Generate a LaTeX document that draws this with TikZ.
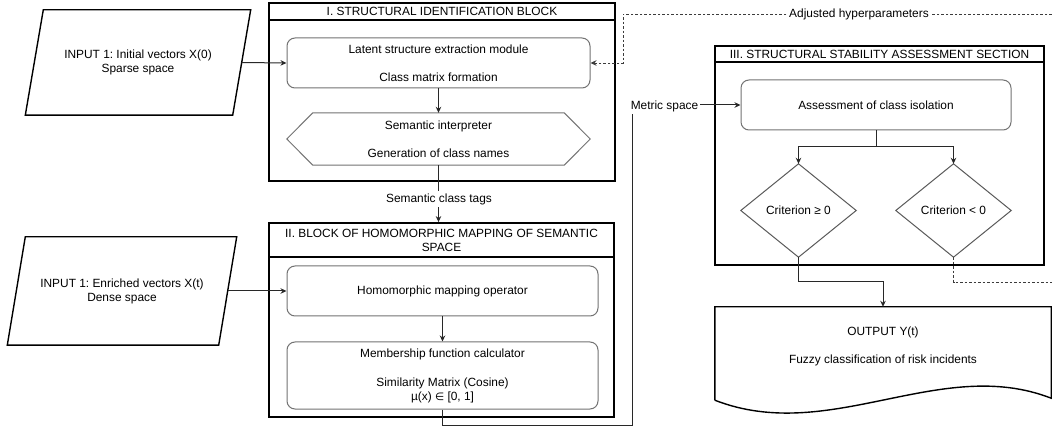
\documentclass[tikz,border=0pt]{standalone}
\usepackage{fontspec}
\setmainfont{Liberation Sans}
\newfontfamily\symfnt{DejaVu Sans}
\usetikzlibrary{arrows.meta,calc}
\frenchspacing
\newcommand\dfont{\fontsize{11.9pt}{14pt}\selectfont}
\tikzset{
  every node/.style={font=\dfont, align=center, inner sep=0pt},
  blockframe/.style={draw=black, line width=1.8pt, minimum width=#1},
  titlebar/.style={draw=black, line width=1.8pt},
  proc/.style={draw={rgb,255:red,115;green,115;blue,115}, line width=1pt, rounded corners=8pt},
  holder/.style={draw=none},
  inshape/.style={draw=black, line width=1.4pt},
  decis/.style={draw={rgb,255:red,90;green,90;blue,90}, line width=1pt},
  link/.style={draw={rgb,255:red,40;green,40;blue,40}, line width=1pt},
  arr/.style={link, -{Stealth[length=6pt,width=5.5pt]}},
  fb/.style={draw={rgb,255:red,60;green,60;blue,60}, line width=0.9pt, dash pattern=on 2.5pt off 2pt},
  lbl/.style={fill=white, inner sep=2pt},
}
\begin{document}
\begin{tikzpicture}[x=1pt, y=-1pt]
\clip (0,0) rectangle (1052,427);
\fill[white] (0,0) rectangle (1052,427);

% ---- inputs ----
\node[holder, minimum width=207pt, minimum height=105pt] (in1) at (138,62.5)
  {INPUT 1: Initial vectors X(0)\\Sparse space};
\draw[inshape] ([xshift=9pt]in1.north west) -- ([xshift=9pt]in1.north east)
  -- ([xshift=-9pt]in1.south east) -- ([xshift=-9pt]in1.south west) -- cycle;

\node[holder, minimum width=211pt, minimum height=108pt] (in2) at (122,291)
  {INPUT 1: Enriched vectors X(t)\\Dense space};
\draw[inshape] ([xshift=9pt]in2.north west) -- ([xshift=9pt]in2.north east)
  -- ([xshift=-9pt]in2.south east) -- ([xshift=-9pt]in2.south west) -- cycle;

% ---- block I ----
\node[blockframe=346pt, minimum height=178pt] (b1) at (442,92) {};
\node[titlebar, minimum width=346pt, minimum height=17pt] (b1t) at (442,11.5)
  {I. STRUCTURAL IDENTIFICATION BLOCK};
\node[proc, minimum width=303pt, minimum height=50pt] (lat) at (438.5,63)
  {Latent structure extraction module\\[14pt]Class matrix formation};
\node[holder, minimum width=303pt, minimum height=52pt] (hex) at (438.5,139)
  {Semantic interpreter\\[14pt]Generation of class names};
\draw[proc, rounded corners=0pt] (hex.west) -- ([xshift=26pt]hex.north west)
  -- ([xshift=-26pt]hex.north east) -- (hex.east)
  -- ([xshift=-26pt]hex.south east) -- ([xshift=26pt]hex.south west) -- cycle;

% ---- block II ----
\node[blockframe=345pt, minimum height=194pt] (b2) at (441.5,320) {};
\node[titlebar, minimum width=345pt, minimum height=34pt] (b2t) at (441.5,240)
  {II. BLOCK OF HOMOMORPHIC MAPPING OF SEMANTIC\\SPACE};
\node[proc, minimum width=311pt, minimum height=50pt] (hom) at (442.5,291)
  {Homomorphic mapping operator};
\node[proc, minimum width=311pt, minimum height=67pt] (mem) at (442.5,375.5)
  {Membership function calculator\\[15pt]Similarity Matrix (Cosine)\\%
   \textmu(x) {\symfnt\fontsize{10.5pt}{14pt}\selectfont∈} [0, 1]};

% ---- block III ----
\node[blockframe=329pt, minimum height=219pt] (b3) at (879.5,155.5) {};
\node[titlebar, minimum width=329pt, minimum height=16pt] (b3t) at (879.5,54)
  {III. STRUCTURAL STABILITY ASSESSMENT SECTION};
\node[proc, minimum width=270pt, minimum height=50pt] (ass) at (876,105)
  {Assessment of class isolation};
\node[holder, minimum width=115pt, minimum height=93pt] (d1) at (798.5,210.5)
  {Criterion ≥ 0};
\draw[decis] (d1.north) -- (d1.east) -- (d1.south) -- (d1.west) -- cycle;
\node[holder, minimum width=115pt, minimum height=93pt] (d2) at (953.5,210.5)
  {Criterion < 0};
\draw[decis] (d2.north) -- (d2.east) -- (d2.south) -- (d2.west) -- cycle;

% ---- output document ----
\node[holder, minimum width=336pt, minimum height=93pt] (out) at (883,353.5) {};
\draw[inshape] (out.south west) -- (out.north west) -- (out.north east)
  -- ([yshift=2pt]out.south east) .. controls (940,355) and (830,445) .. (out.south west);
\node (outtxt) at ([yshift=7.5pt]out.center)
  {OUTPUT Y(t)\\[14pt]Fuzzy classification of risk incidents};

% ---- connectors ----
\draw[arr] (in1.east) -- (lat.west);
\draw[arr] (in2.east) -- (hom.west);
\draw[arr] (lat.south) -- (hex.north);
\draw[arr] (hex.south) -- (b2t.north -| hex.south);
\node[lbl] (tags) at (439,199) {Semantic class tags};
\draw[arr] (hom.south) -- (mem.north);

\coordinate (m1) at (442.5,425);
\coordinate (m2) at (632,425);
\draw[arr] (mem.south) -- (m1) -- (m2) |- (ass.west);
\node[lbl] (metric) at (664.5,106) {Metric space};

\coordinate (split) at (876,147);
\draw[link] (ass.south) -- (split);
\draw[arr] (split) -| (d1.north);
\draw[arr] (split) -| (d2.north);

\coordinate (okbend) at (798.5,282);
\draw[arr] (d1.south) -- (okbend) -| (out.north);

% feedback loop running past the right edge
\coordinate (f1) at (953.5,282);
\coordinate (f2) at (1070,282);
\coordinate (f3) at (1070,14);
\coordinate (f4) at (623,14);
\draw[fb, -{Stealth[length=6pt,width=5.5pt]}] (d2.south) -- (f1) -- (f2) -- (f3) -- (f4)
  |- (lat.east);
\node[lbl] (hyper) at (859,14) {Adjusted hyperparameters};
\end{tikzpicture}
\end{document}
